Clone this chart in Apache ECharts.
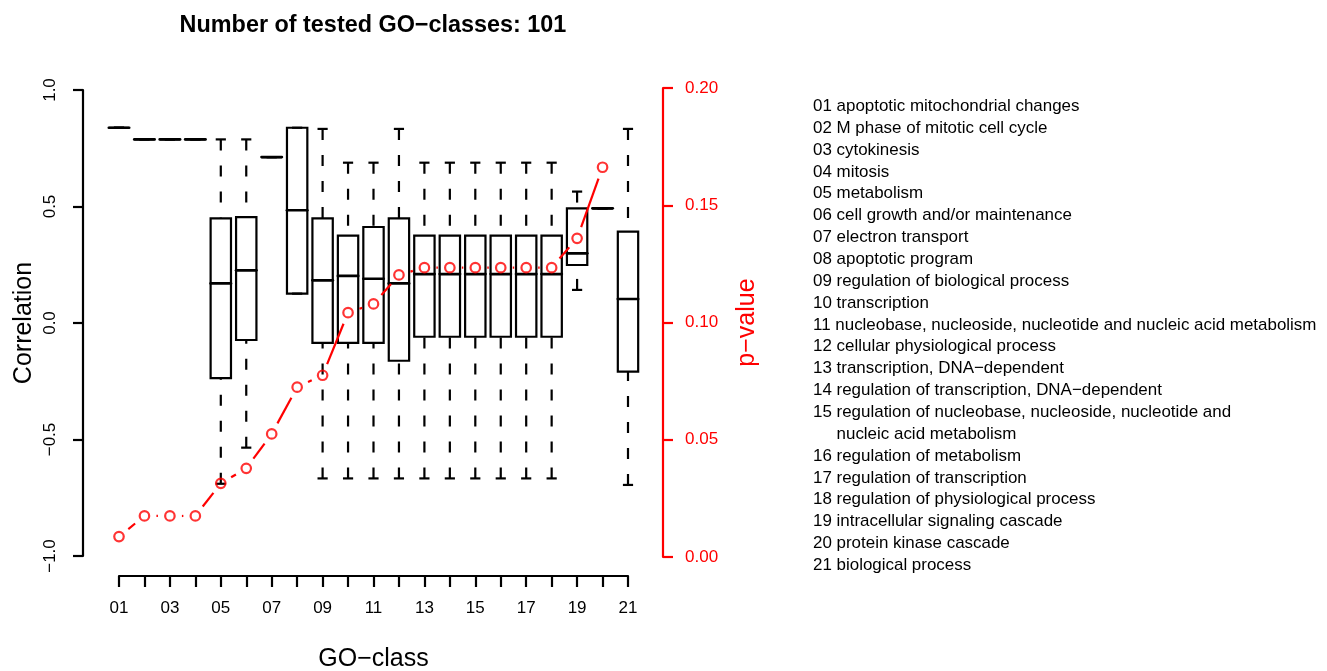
<!DOCTYPE html>
<html>
<head>
    <meta charset="utf-8">
    <title>GO-class correlation boxplot</title>
    <script src="https://cdn.jsdelivr.net/npm/echarts@6/dist/echarts.min.js"></script>
    <style>
        html, body {
            margin: 0;
            padding: 0;
            width: 100%;
            height: 100%;
            overflow: hidden;
            background: #fff;
        }
        #chart {
            width: 1327px;
            height: 671px;
        }
    </style>
</head>
<body>
    <div id="chart"></div>
    <script>
        // GO classes (tick codes + legend names)
        const classCodes = ['01', '02', '03', '04', '05', '06', '07', '08', '09', '10', '11',
            '12', '13', '14', '15', '16', '17', '18', '19', '20', '21'];
        const classNames = [
            'apoptotic mitochondrial changes',
            'M phase of mitotic cell cycle',
            'cytokinesis',
            'mitosis',
            'metabolism',
            'cell growth and/or maintenance',
            'electron transport',
            'apoptotic program',
            'regulation of biological process',
            'transcription',
            'nucleobase, nucleoside, nucleotide and nucleic acid metabolism',
            'cellular physiological process',
            'transcription, DNA\u2212dependent',
            'regulation of transcription, DNA\u2212dependent',
            'regulation of nucleobase, nucleoside, nucleotide and\nnucleic acid metabolism',
            'regulation of metabolism',
            'regulation of transcription',
            'regulation of physiological process',
            'intracellular signaling cascade',
            'protein kinase cascade',
            'biological process'
        ];

        // boxplot statistics of the correlation per class
        const whiskerLow  = [0.838, 0.788, 0.788, 0.788, -0.690, -0.535, 0.712, 0.126, -0.667, -0.667, -0.667,
            -0.667, -0.667, -0.667, -0.667, -0.667, -0.667, -0.667, 0.142, 0.492, -0.695];
        const lowerHinge  = [0.838, 0.788, 0.788, 0.788, -0.237, -0.073, 0.712, 0.126, -0.085, -0.085, -0.085,
            -0.162, -0.059, -0.059, -0.059, -0.059, -0.059, -0.059, 0.249, 0.492, -0.209];
        const medians     = [0.838, 0.788, 0.788, 0.788, 0.170, 0.226, 0.712, 0.484, 0.183, 0.202, 0.190,
            0.170, 0.210, 0.210, 0.210, 0.210, 0.210, 0.210, 0.299, 0.492, 0.103];
        const upperHinge  = [0.838, 0.788, 0.788, 0.788, 0.449, 0.454, 0.712, 0.838, 0.449, 0.375, 0.412,
            0.449, 0.375, 0.375, 0.375, 0.375, 0.375, 0.375, 0.492, 0.492, 0.392];
        const whiskerHigh = [0.838, 0.788, 0.788, 0.788, 0.788, 0.788, 0.712, 0.838, 0.833, 0.688, 0.688,
            0.833, 0.688, 0.688, 0.688, 0.688, 0.688, 0.688, 0.564, 0.492, 0.833];

        // p-value per class (none for class 21)
        const pValues = [0.0087, 0.0175, 0.0175, 0.0175, 0.0314, 0.0378, 0.0525, 0.0724, 0.0775, 0.1042,
            0.1079, 0.1203, 0.1234, 0.1234, 0.1234, 0.1234, 0.1234, 0.1234, 0.1359, 0.1662, null];

        const FONT = '"Liberation Sans", Arial, Helvetica, sans-serif';
        const RED = '#ff0000';
        const LW = 2.2;
        const toMinus = (s) => s.replace('-', '\u2212');

        const chart = echarts.init(document.getElementById('chart'), null, { renderer: 'canvas' });

        const boxData = classCodes.map((c, i) =>
            [i + 1, whiskerLow[i], lowerHinge[i], medians[i], upperHinge[i], whiskerHigh[i]]);

        const lineData = [];
        for (let i = 0; i < pValues.length - 1; i++) {
            if (pValues[i] != null && pValues[i + 1] != null) {
                lineData.push([i + 1, pValues[i], i + 2, pValues[i + 1]]);
            }
        }
        const pointData = pValues
            .map((p, i) => (p == null ? null : [i + 1, p]))
            .filter((d) => d);

        // R style boxplot: dashed whiskers, staples, box and median
        function renderBox(params, api) {
            const x = api.value(0);
            const lo = api.coord([x, api.value(1)]);
            const q1 = api.coord([x, api.value(2)]);
            const md = api.coord([x, api.value(3)]);
            const q3 = api.coord([x, api.value(4)]);
            const hi = api.coord([x, api.value(5)]);
            const half = api.size([0.8, 0])[0] / 2;
            const cx = lo[0];
            const dash = { stroke: '#000', lineWidth: LW, lineDash: [11, 15], fill: null };
            const solid = { stroke: '#000', lineWidth: LW, fill: null };
            return {
                type: 'group',
                children: [
                    { type: 'line', shape: { x1: cx, y1: lo[1], x2: cx, y2: q1[1] }, style: dash },
                    { type: 'line', shape: { x1: cx, y1: hi[1], x2: cx, y2: q3[1] }, style: dash },
                    { type: 'line', shape: { x1: cx - half / 2, y1: lo[1], x2: cx + half / 2, y2: lo[1] }, style: solid },
                    { type: 'line', shape: { x1: cx - half / 2, y1: hi[1], x2: cx + half / 2, y2: hi[1] }, style: solid },
                    {
                        type: 'rect',
                        shape: { x: cx - half, y: q3[1], width: half * 2, height: q1[1] - q3[1] },
                        style: solid
                    },
                    {
                        type: 'line',
                        shape: { x1: cx - half, y1: md[1], x2: cx + half, y2: md[1] },
                        style: { stroke: '#000', lineWidth: 2.7, lineCap: 'round', fill: null }
                    }
                ]
            };
        }

        // p-value connecting lines, stopping short of the points (like type = "b")
        const GAP = 12;
        function renderPLine(params, api) {
            const a = api.coord([api.value(0), api.value(1)]);
            const b = api.coord([api.value(2), api.value(3)]);
            const dx = b[0] - a[0];
            const dy = b[1] - a[1];
            const len = Math.hypot(dx, dy);
            if (len <= GAP * 2) return null;
            const ux = dx / len;
            const uy = dy / len;
            return {
                type: 'line',
                shape: { x1: a[0] + ux * GAP, y1: a[1] + uy * GAP, x2: b[0] - ux * GAP, y2: b[1] - uy * GAP },
                style: { stroke: RED, lineWidth: LW, fill: null }
            };
        }

        // legend text on the right
        const legendFontSize = 16.95;
        const measureCtx = document.createElement('canvas').getContext('2d');
        measureCtx.font = legendFontSize + 'px ' + FONT;
        const legendItems = [];
        let line = 0;
        const lineStep = 21.86;
        classCodes.forEach((code, i) => {
            const parts = classNames[i].split('\n');
            const indent = measureCtx.measureText(code + ' ').width;
            parts.forEach((part, k) => {
                legendItems.push({
                    type: 'text',
                    left: 813 + (k === 0 ? 0 : indent),
                    top: 108 + line * lineStep - legendFontSize * 0.6,
                    style: {
                        text: k === 0 ? code + ' ' + part : part,
                        fill: '#000',
                        font: legendFontSize + 'px ' + FONT
                    }
                });
                line++;
            });
        });

        const option = {
            backgroundColor: '#fff',
            animation: false,
            title: {
                text: 'Number of tested GO\u2212classes: 101',
                left: 368,
                top: 9,
                textAlign: 'center',
                textStyle: { fontSize: 23.4, fontWeight: 'bold', color: '#000', fontFamily: FONT }
            },
            grid: [
                { left: 119, right: 699, top: 90, bottom: 115, outerBoundsMode: 'none', containLabel: false },
                { left: 119, right: 699, top: 88, bottom: 114, outerBoundsMode: 'none', containLabel: false }
            ],
            xAxis: [{
                gridIndex: 0,
                type: 'value',
                min: 1,
                max: 21,
                interval: 1,
                offset: 20,
                name: 'GO\u2212class',
                nameLocation: 'middle',
                nameGap: 71,
                nameTextStyle: { fontSize: 25, color: '#000', fontFamily: FONT },
                axisLine: { show: true, onZero: false, lineStyle: { color: '#000', width: LW } },
                axisTick: { show: true, length: 11, lineStyle: { color: '#000', width: LW } },
                axisLabel: {
                    show: true,
                    margin: 24,
                    color: '#000',
                    fontSize: 17,
                    fontFamily: FONT,
                    showMinLabel: true,
                    showMaxLabel: true,
                    formatter: (v) => (v % 2 === 1 ? classCodes[v - 1] : '')
                },
                splitLine: { show: false }
            }, {
                gridIndex: 1,
                type: 'value',
                min: 1,
                max: 21,
                show: false
            }],
            yAxis: [{
                gridIndex: 0,
                type: 'value',
                position: 'left',
                min: -1,
                max: 1,
                interval: 0.5,
                offset: 36,
                name: 'Correlation',
                nameLocation: 'middle',
                nameRotate: 90,
                nameGap: 46,
                nameTextStyle: { fontSize: 25, color: '#000', fontFamily: FONT },
                axisLine: { show: true, onZero: false, lineStyle: { color: '#000', width: LW } },
                axisTick: { show: true, length: 10, lineStyle: { color: '#000', width: LW } },
                axisLabel: {
                    rotate: 90,
                    margin: 24,
                    color: '#000',
                    fontSize: 17,
                    fontFamily: FONT,
                    formatter: (v) => toMinus(v.toFixed(1))
                },
                splitLine: { show: false }
            }, {
                gridIndex: 1,
                type: 'value',
                position: 'right',
                min: 0,
                max: 0.2,
                interval: 0.05,
                offset: 35,
                name: 'p\u2212value',
                nameLocation: 'middle',
                nameRotate: 90,
                nameGap: 72,
                nameTextStyle: { fontSize: 25, color: RED, fontFamily: FONT },
                axisLine: { show: true, onZero: false, lineStyle: { color: RED, width: LW } },
                axisTick: { show: true, length: 10, lineStyle: { color: RED, width: LW } },
                axisLabel: {
                    margin: 22,
                    color: RED,
                    fontSize: 17,
                    fontFamily: FONT,
                    formatter: (v) => v.toFixed(2)
                },
                splitLine: { show: false }
            }],
            graphic: legendItems,
            series: [{
                name: 'Correlation',
                type: 'custom',
                xAxisIndex: 0,
                yAxisIndex: 0,
                clip: false,
                renderItem: renderBox,
                data: boxData,
                z: 2
            }, {
                name: 'p-value line',
                type: 'custom',
                xAxisIndex: 1,
                yAxisIndex: 1,
                clip: false,
                renderItem: renderPLine,
                data: lineData,
                z: 3
            }, {
                name: 'p-value',
                type: 'scatter',
                xAxisIndex: 1,
                yAxisIndex: 1,
                symbol: 'circle',
                symbolSize: 9.5,
                itemStyle: { color: 'rgba(0,0,0,0)', borderColor: RED, borderWidth: LW },
                data: pointData,
                z: 4
            }]
        };

        chart.setOption(option);
    </script>
</body>
</html>
